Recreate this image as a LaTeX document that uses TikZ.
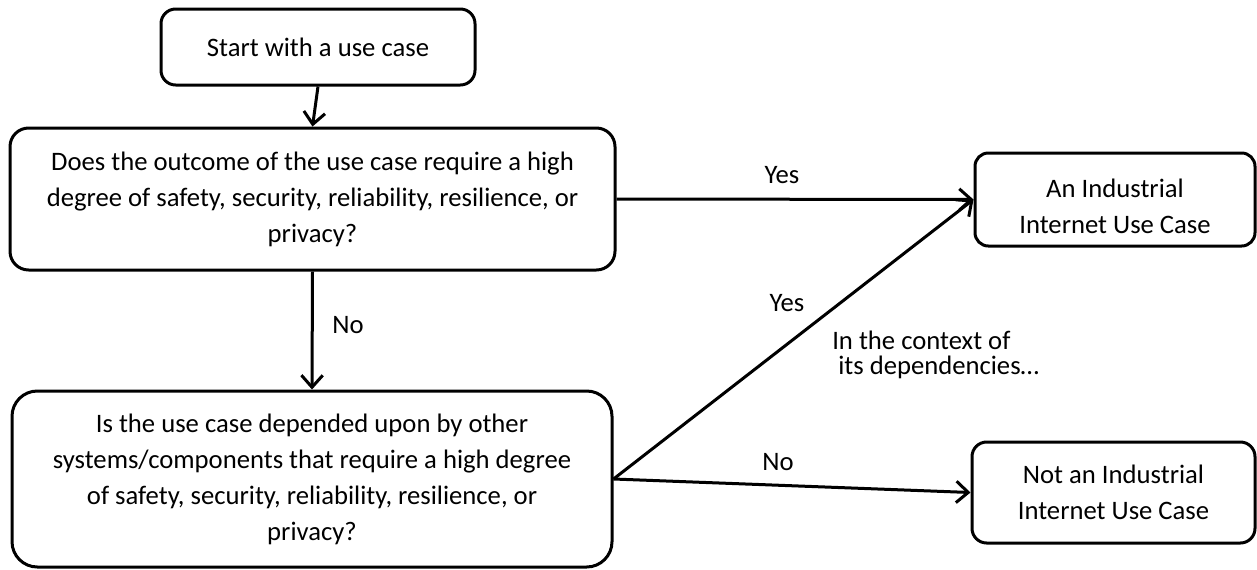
\documentclass[tikz,border=0pt]{standalone}
\usepackage{fontspec}
\setmainfont{Carlito}
\usetikzlibrary{arrows.meta}
\begin{document}
\begin{tikzpicture}[x=0.75pt,y=-0.75pt,
  font=\fontsize{20pt}{27pt}\selectfont,
  box/.style={draw, line width=2.25pt, rounded corners=13pt, align=center, inner sep=0pt},
  conn/.style={line width=2.25pt, -{Straight Barb[length=9pt,width=16pt,line width=2.25pt]}},
  lbl/.style={inner sep=0pt, align=center}]
\useasboundingbox (0,0) rectangle (1257,569);
\node[box, rounded corners=11pt, minimum width=235.5pt, minimum height=57pt] (S) at (318,47) {Start with a use case};
\node[box, rounded corners=14pt, minimum width=453.75pt, minimum height=106.5pt] (B2) at (312.5,199)
  {Does the outcome of the use case require a high\\degree of safety, security, reliability, resilience, or\\privacy?};
\node[box, rounded corners=19pt, minimum width=450pt, minimum height=132pt] (B3) at (312,479)
  {Is the use case depended upon by other\\systems/components that require a high degree\\of safety, security, reliability, resilience, or\\privacy?};
\node[box, rounded corners=10pt, minimum width=210pt, minimum height=69.75pt] (R1) at (1115,199.5) {};
\node[lbl] (R1t) at (1115,206) {An Industrial\\Internet Use Case};
\node[box, rounded corners=11pt, minimum width=212.25pt, minimum height=75.75pt] (R2) at (1113.5,492.5) {Not an Industrial\\Internet Use Case};
\draw[conn] (S.south) -- (B2.north);
\draw[conn] (B2.south) -- (B3.north);
\draw[conn] (B2.east) -- (R1.west);
\draw[conn] (B3.east) -- (R1.west);
\draw[conn] (B3.east) -- (R2.west);
\node[lbl] (yes1) at (782,175) {Yes};
\node[lbl] (no1) at (348,325) {No};
\node[lbl] (yes2) at (787,303) {Yes};
\node[lbl] (no2) at (778,462) {No};
\node[lbl, anchor=west] (ctx1) at (832,340) {In the context of};
\node[lbl, anchor=west] (ctx2) at (838,367) {its dependencies…};
\end{tikzpicture}
\end{document}
